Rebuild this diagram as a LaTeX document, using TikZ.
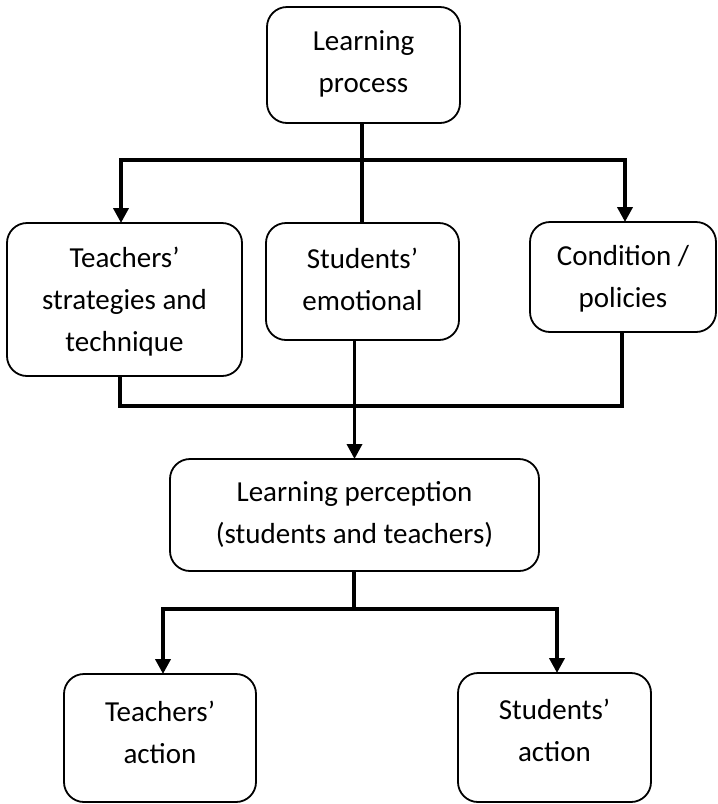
\documentclass[tikz,border=0pt]{standalone}
\usepackage{fontspec}
\setmainfont{Carlito}
\usetikzlibrary{arrows.meta}
\begin{document}
\begin{tikzpicture}[x=1pt,y=-1pt,
  box/.style={draw=black, line width=1.8pt, rounded corners=20pt, inner sep=0pt, outer sep=0pt},
  txt/.style={align=center, inner sep=0pt, font=\fontsize{29pt}{42pt}\selectfont},
  conn/.style={draw=black, line width=3.4pt, line cap=butt, line join=miter},
  arr/.style={conn, -{Triangle[width=15pt,length=15pt]}}
]
\useasboundingbox[fill=white] (0,0) rectangle (718,804);
% boxes
\node[box, minimum width=193pt, minimum height=116pt] (lp) at (363.5,65) {};
\node[box, minimum width=235pt, minimum height=153pt] (ts) at (124.5,299.5) {};
\node[box, minimum width=193pt, minimum height=117pt] (se) at (362.5,281.5) {};
\node[box, minimum width=186pt, minimum height=110pt] (cp) at (623,277) {};
\node[box, minimum width=369pt, minimum height=112pt] (lper) at (354.5,515) {};
\node[box, minimum width=192pt, minimum height=128pt] (ta) at (160,738) {};
\node[box, minimum width=193pt, minimum height=129pt] (sa) at (554.5,737.5) {};
% texts
\node[txt] (lpt) at (363.5,64) {Learning\\process};
\node[txt] (tst) at (124.5,302) {Teachers’\\strategies and\\technique};
\node[txt] (set) at (362.5,279) {Students’\\emotional};
\node[txt] (cpt) at (623,278.5) {Condition /\\policies};
\node[txt] (lpert) at (354.5,514) {Learning perception\\(students and teachers)};
\node[txt] (tat) at (160,732) {Teachers’\\action};
\node[txt] (sat) at (554.5,730) {Students’\\action};
% junction coordinates
\coordinate (j1) at (362,160);
\coordinate (j1L) at (121,160);
\coordinate (j1R) at (625,160);
\coordinate (j2L) at (120,406);
\coordinate (j2R) at (622,406);
\coordinate (j3) at (354,609);
\coordinate (j3L) at (163,609);
\coordinate (j3R) at (557,609);
% connectors top
\draw[conn] (j1 |- lp.south) -- (j1 |- se.north);
\draw[arr, line width=3.8pt] (j1) -- (j1L) -- (j1L |- ts.north);
\draw[arr, line width=3.8pt] (j1) -- (j1R) -- (j1R |- cp.north);
% connectors middle
\draw[conn] (j2L |- ts.south) -- (j2L) -- (j2R) -- (j2R |- cp.south);
\draw[arr] (lper.north |- se.south) -- (lper.north);
% connectors bottom
\draw[conn] (j3 |- lper.south) -- (j3);
\draw[arr, line width=3.8pt] (j3) -- (j3L) -- (j3L |- ta.north);
\draw[arr, line width=3.8pt] (j3) -- (j3R) -- (j3R |- sa.north);
\end{tikzpicture}
\end{document}
